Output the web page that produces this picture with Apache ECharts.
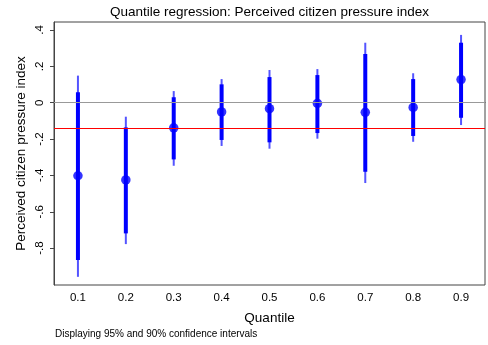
<!DOCTYPE html>
<html>
<head>
<meta charset="utf-8">
<script src="https://cdn.jsdelivr.net/npm/echarts@6/dist/echarts.min.js"></script>
<style>
  html, body { margin: 0; padding: 0; background: #fff; }
  #chart { width: 488px; height: 345px; }
</style>
</head>
<body>
<div id="chart"></div>
<script>
// Quantile regression coefficients with 95% (outer) and 90% (inner) intervals
const quantiles = ['0.1', '0.2', '0.3', '0.4', '0.5', '0.6', '0.7', '0.8', '0.9'];
const estimate = [-0.402, -0.425, -0.138, -0.051, -0.033, -0.004, -0.053, -0.026, 0.127];
const ci95Low  = [-0.958, -0.778, -0.347, -0.238, -0.253, -0.198, -0.442, -0.215, -0.123];
const ci95High = [0.149, -0.077, 0.064, 0.130, 0.180, 0.185, 0.330, 0.162, 0.373];
const ci90Low  = [-0.866, -0.719, -0.312, -0.205, -0.218, -0.167, -0.380, -0.183, -0.083];
const ci90High = [0.057, -0.136, 0.030, 0.101, 0.141, 0.152, 0.268, 0.130, 0.330];
const olsEstimate = -0.138;
const yTicks = [-0.8, -0.6, -0.4, -0.2, 0, 0.2, 0.4];

const fontFamily = '"Liberation Sans", Arial, Helvetica, sans-serif';

function tickText(v) {
  if (Math.abs(v) < 1e-9) return '0';
  const s = (Math.round(v * 10) / 10).toString();
  return s.replace('0.', '.');
}

const intervalRows = quantiles.map((q, i) => [i, ci95Low[i], ci95High[i], ci90Low[i], ci90High[i]]);

const chart = echarts.init(document.getElementById('chart'), null, { renderer: 'canvas' });
chart.setOption({
  animation: false,
  backgroundColor: '#ffffff',
  title: {
    text: 'Quantile regression: Perceived citizen pressure index',
    left: 269.5,
    textAlign: 'center',
    top: 5.5,
    padding: 0,
    textStyle: { fontFamily, fontSize: 13.5, fontWeight: 'normal', color: '#000' }
  },
  graphic: [{
    type: 'text',
    left: 55,
    top: 329,
    style: { text: 'Displaying 95% and 90% confidence intervals', font: '10px ' + fontFamily, fill: '#000' }
  }],
  grid: {
    left: 54, right: 3, top: 22, bottom: 60,
    show: true, borderColor: '#444', borderWidth: 1, backgroundColor: '#fff'
  },
  xAxis: {
    type: 'category',
    data: quantiles,
    boundaryGap: true,
    name: 'Quantile',
    nameLocation: 'middle',
    nameGap: 26,
    nameTextStyle: { fontFamily, fontSize: 13.5, color: '#000' },
    axisLine: { lineStyle: { color: '#444' } },
    axisTick: { alignWithLabel: true, length: 4, lineStyle: { color: '#444' } },
    axisLabel: { fontFamily, fontSize: 11.5, color: '#000', margin: 7 },
    splitLine: { show: false }
  },
  yAxis: {
    type: 'value',
    min: -1.003,
    max: 0.444,
    name: 'Perceived citizen pressure index',
    nameLocation: 'middle',
    nameGap: 26,
    nameMoveOverlap: false,
    nameTextStyle: { fontFamily, fontSize: 13.5, color: '#000' },
    axisLine: { show: true, lineStyle: { color: '#444' } },
    axisTick: { show: true, length: 4, customValues: yTicks, lineStyle: { color: '#444' } },
    axisLabel: {
      fontFamily, fontSize: 11.5, color: '#000', rotate: 90, margin: 8,
      customValues: yTicks,
      formatter: tickText
    },
    splitLine: { show: false }
  },
  series: [
    {
      // reference lines: zero and the OLS estimate
      type: 'line',
      data: [],
      silent: true,
      markLine: {
        silent: true,
        symbol: 'none',
        label: { show: false },
        data: [
          { yAxis: 0, lineStyle: { color: '#999999', width: 1, type: 'solid' } },
          { yAxis: olsEstimate, lineStyle: { color: '#ff0000', width: 1.2, type: 'solid' } }
        ]
      }
    },
    {
      type: 'custom',
      data: intervalRows,
      encode: { x: 0, y: [1, 2, 3, 4] },
      renderItem: function (params, api) {
        const x = api.value(0);
        const a = api.coord([x, api.value(1)]);
        const b = api.coord([x, api.value(2)]);
        const c = api.coord([x, api.value(3)]);
        const d = api.coord([x, api.value(4)]);
        return {
          type: 'group',
          children: [
            { type: 'line', shape: { x1: a[0], y1: a[1], x2: b[0], y2: b[1] },
              style: { stroke: '#5454ff', lineWidth: 2 } },
            { type: 'line', shape: { x1: c[0], y1: c[1], x2: d[0], y2: d[1] },
              style: { stroke: '#0000ff', lineWidth: 4 } }
          ]
        };
      },
      z: 3
    },
    {
      type: 'scatter',
      data: estimate,
      symbol: 'circle',
      symbolSize: 9.5,
      itemStyle: { color: '#0000ff' },
      z: 4
    }
  ]
});
</script>
</body>
</html>
